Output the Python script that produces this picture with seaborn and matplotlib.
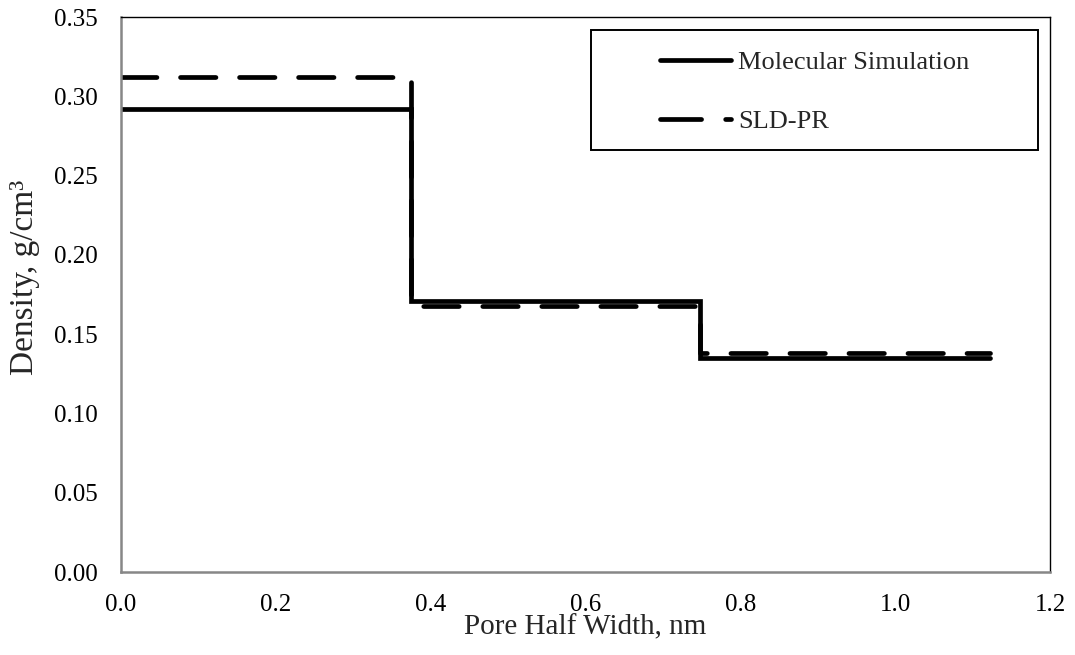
import matplotlib
matplotlib.use("Agg")
import matplotlib.pyplot as plt
from matplotlib.patches import Rectangle
import seaborn as sns
import pandas as pd

# Step edges of the layered density profile (nm) and density per layer (g/cm3)
layer_edges = [0.0, 0.374, 0.748, 1.122]
sim_density = [0.292, 0.171, 0.135, 0.135]
sld_density = [0.312, 0.168, 0.138, 0.138]
series_names = ["Molecular Simulation", "SLD-PR"]

x_ticks = [0.0, 0.2, 0.4, 0.6, 0.8, 1.0, 1.2]
y_ticks = [0.00, 0.05, 0.10, 0.15, 0.20, 0.25, 0.30, 0.35]

df = pd.DataFrame({
    "x": layer_edges * 2,
    "density": sim_density + sld_density,
    "series": [series_names[0]] * len(layer_edges) + [series_names[1]] * len(layer_edges),
})

sns.set_theme(style="white")
plt.rcParams["font.family"] = ["Liberation Serif", "DejaVu Serif"]

fig = plt.figure(figsize=(10.75, 6.55), dpi=100)
ax = fig.add_axes([0.1126, 0.1267, 0.8642, 0.8473])

sns.lineplot(
    data=df, x="x", y="density", hue="series", style="series",
    palette={series_names[0]: "black", series_names[1]: "black"},
    dashes={series_names[0]: "", series_names[1]: (7.5, 5)},
    drawstyle="steps-post", linewidth=3.4, estimator=None, sort=False,
    ax=ax, legend=True,
)
for line in ax.get_lines():
    line.set_solid_capstyle("round")
    line.set_dash_capstyle("round")
    line.set_solid_joinstyle("miter")

ax.set_xlim(0, 1.2)
ax.set_ylim(0, 0.35)
ax.set_xticks(x_ticks)
ax.set_yticks(y_ticks)
ax.set_xticklabels([f"{v:.1f}" for v in x_ticks])
ax.set_yticklabels([f"{v:.2f}" for v in y_ticks])
ax.tick_params(axis="both", length=0, labelsize=18, colors="black")
ax.tick_params(axis="x", pad=16)
ax.tick_params(axis="y", pad=16.5)
ax.set_xlabel("Pore Half Width, nm", fontsize=21, va="top")
ax.xaxis.set_label_coords(0.5, -0.077)
ax.set_ylabel("Density, g/cm³", fontsize=24)
ax.yaxis.set_label_coords(-0.087, 0.53)

for side in ["top", "right"]:
    ax.spines[side].set_color("black")
    ax.spines[side].set_linewidth(1.0)
for side in ["left", "bottom"]:
    ax.spines[side].set_color("#878787")
    ax.spines[side].set_linewidth(1.8)

# Legend entries with an outer box drawn separately
handles, labels = ax.get_legend_handles_labels()
for h in handles:
    h.set_linewidth(3.4)
    h.set_dash_capstyle("round")
    h.set_solid_capstyle("round")
handles[1].set_dashes((8.7, 5.1))
leg = ax.legend(
    handles, labels, frameon=False, loc="upper left",
    bbox_to_anchor=(0.614, 0.9224), bbox_transform=fig.transFigure,
    fontsize=19, handlelength=2.7, handletextpad=0.25,
    labelspacing=1.35, borderpad=0, borderaxespad=0,
)
fig.patches.append(Rectangle(
    (0.5498, 0.771), 0.4158, 0.1832, transform=fig.transFigure,
    fill=False, edgecolor="black", linewidth=1.4, zorder=5,
))

fig.savefig("out.png", dpi=100, facecolor="white")
